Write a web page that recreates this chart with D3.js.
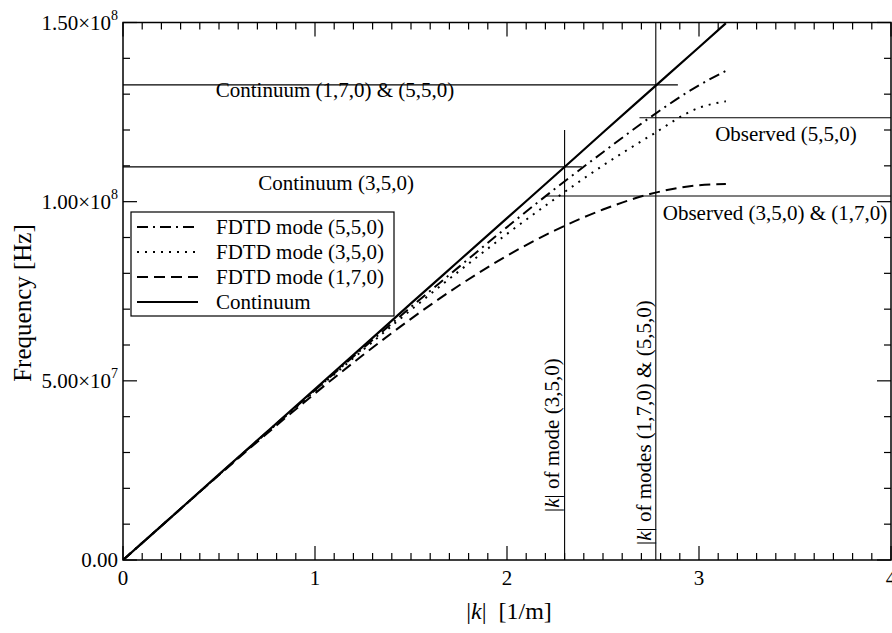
<!DOCTYPE html>
<meta charset="utf-8">
<script src="https://d3js.org/d3.v7.min.js"></script>
<div id="chart"></div>
<style>
	body {
		margin: 0;
		padding: 0;
		background: #fff;
		overflow: hidden;
	}
	text {
		font-family: "Liberation Serif", "DejaVu Serif", serif;
		fill: #000;
	}
</style>
<script>
	// |k| samples (1/m) and frequencies (Hz)
	const kValues = [0, 0.25, 0.5, 0.75, 1.0, 1.25, 1.5, 1.75, 2.0, 2.25, 2.5, 2.75, 3.0, 3.14];
	const continuum = [0, 1.19e7, 2.39e7, 3.58e7, 4.77e7, 5.96e7, 7.16e7, 8.35e7, 9.54e7, 1.073e8, 1.193e8, 1.312e8, 1.431e8, 1.498e8];
	const mode550 = [0, 1.19e7, 2.38e7, 3.57e7, 4.74e7, 5.91e7, 7.06e7, 8.18e7, 9.29e7, 1.036e8, 1.138e8, 1.237e8, 1.325e8, 1.365e8];
	const mode350 = [0, 1.19e7, 2.38e7, 3.56e7, 4.72e7, 5.86e7, 6.98e7, 8.06e7, 9.10e7, 1.008e8, 1.101e8, 1.185e8, 1.262e8, 1.28e8];
	const mode170 = [0, 1.19e7, 2.37e7, 3.53e7, 4.65e7, 5.72e7, 6.73e7, 7.66e7, 8.49e7, 9.20e7, 9.78e7, 1.022e8, 1.046e8, 1.049e8];

	const seriesNames = ["FDTD mode (5,5,0)", "FDTD mode (3,5,0)", "FDTD mode (1,7,0)", "Continuum"];

	// reference lines: horizontal [freq, kFrom, kTo], vertical [k, freqTo]
	const hRefs = [[1.326e8, 0, 2.89], [1.097e8, 0, 2.39], [1.234e8, 2.69, 4], [1.016e8, 2.20, 4]];
	const hLabels = ["Continuum (1,7,0) & (5,5,0)", "Continuum (3,5,0)", "Observed (5,5,0)", "Observed (3,5,0) & (1,7,0)"];
	const vRefs = [[2.30, 1.20e8], [2.775, 1.5e8]];
	const vLabels = ["|k| of mode (3,5,0)", "|k| of modes (1,7,0) & (5,5,0)"];

	const xTickLabels = ["0", "1", "2", "3", "4"];
	const yTickLabels = [["0.00", ""], ["5.00×10", "7"], ["1.00×10", "8"], ["1.50×10", "8"]];

	const WIDTH = 892, HEIGHT = 633;
	const L = 123, R = 891, T = 22.5, B = 560;

	const svg = d3.select("#chart").append("svg")
		.attr("width", WIDTH)
		.attr("height", HEIGHT);

	const x = d3.scaleLinear().domain([0, 4]).range([L, R]);
	const y = d3.scaleLinear().domain([0, 1.5e8]).range([B, T]);

	svg.append("clipPath").attr("id", "clip")
		.append("rect").attr("x", L).attr("y", T).attr("width", R - L).attr("height", B - T);

	// reference lines
	const refs = svg.append("g").attr("stroke", "#000").attr("stroke-width", 1.1);
	hRefs.forEach(([f, k0, k1]) => {
		refs.append("line").attr("x1", x(k0)).attr("x2", x(k1)).attr("y1", y(f)).attr("y2", y(f));
	});
	vRefs.forEach(([k, f]) => {
		refs.append("line").attr("x1", x(k)).attr("x2", x(k)).attr("y1", y(0)).attr("y2", y(f));
	});

	// curves
	const styles = [
		{ dash: "11,5,2,5", width: 2 },
		{ dash: "2,6", width: 2 },
		{ dash: "11,6", width: 2 },
		{ dash: null, width: 2.2 }
	];
	const allSeries = [mode550, mode350, mode170, continuum];
	const line = d3.line()
		.x((d, i) => x(kValues[i]))
		.y(d => y(d))
		.curve(d3.curveMonotoneX);

	svg.append("g").attr("clip-path", "url(#clip)")
		.selectAll("path")
		.data(allSeries)
		.join("path")
		.attr("d", d => line(d))
		.attr("fill", "none")
		.attr("stroke", "#000")
		.attr("stroke-width", (d, i) => styles[i].width)
		.attr("stroke-dasharray", (d, i) => styles[i].dash);

	// frame
	svg.append("rect")
		.attr("x", L).attr("y", T).attr("width", R - L).attr("height", B - T)
		.attr("fill", "none").attr("stroke", "#000").attr("stroke-width", 1.5);

	// ticks, pointing inward on all four sides
	const ticks = svg.append("g").attr("stroke", "#000").attr("stroke-width", 1.2);
	d3.range(0, 41).forEach(i => {
		const len = i % 10 === 0 ? 14 : 7;
		const px = x(i / 10);
		ticks.append("line").attr("x1", px).attr("x2", px).attr("y1", B).attr("y2", B - len);
		ticks.append("line").attr("x1", px).attr("x2", px).attr("y1", T).attr("y2", T + len);
	});
	d3.range(0, 16).forEach(i => {
		const len = i % 5 === 0 ? 14 : 7;
		const py = y(i * 1e7);
		ticks.append("line").attr("x1", L).attr("x2", L + len).attr("y1", py).attr("y2", py);
		ticks.append("line").attr("x1", R).attr("x2", R - len).attr("y1", py).attr("y2", py);
	});

	// tick labels
	svg.append("g").selectAll("text")
		.data(xTickLabels)
		.join("text")
		.attr("x", (d, i) => x(i))
		.attr("y", 585)
		.attr("text-anchor", "middle")
		.attr("font-size", 21)
		.text(d => d);

	const yLab = svg.append("g").selectAll("text")
		.data(yTickLabels)
		.join("text")
		.attr("x", 118)
		.attr("y", (d, i) => y(i * 5e7) + 7)
		.attr("text-anchor", "end")
		.attr("font-size", 21);
	yLab.append("tspan").text(d => d[0]);
	yLab.append("tspan").attr("dy", -10).attr("font-size", 14).text(d => d[1]);

	// axis titles
	svg.append("text")
		.attr("transform", "translate(31,303) rotate(-90)")
		.attr("text-anchor", "middle")
		.attr("font-size", 25)
		.text("Frequency [Hz]");

	const xt = svg.append("text")
		.attr("x", 509).attr("y", 619)
		.attr("text-anchor", "middle")
		.attr("font-size", 24);
	xt.append("tspan").text("|");
	xt.append("tspan").attr("font-style", "italic").text("k");
	xt.append("tspan").text("|  [1/m]").attr("xml:space", "preserve");

	// annotation labels
	const hPos = [[335, 97], [336, 190], [786, 141], [775, 220]];
	svg.append("g").selectAll("text")
		.data(hLabels)
		.join("text")
		.attr("x", (d, i) => hPos[i][0])
		.attr("y", (d, i) => hPos[i][1])
		.attr("text-anchor", "middle")
		.attr("font-size", 21)
		.text(d => d);

	const vPos = [[x(vRefs[0][0]) - 6, 512], [x(vRefs[1][0]) - 5, 545]];
	vLabels.forEach((lab, i) => {
		const t = svg.append("text")
			.attr("transform", `translate(${vPos[i][0]},${vPos[i][1]}) rotate(-90)`)
			.attr("font-size", 21);
		t.append("tspan").text("|");
		t.append("tspan").attr("font-style", "italic").text("k");
		t.append("tspan").text(lab.slice(2));
	});

	// legend
	const lg = svg.append("g");
	lg.append("rect")
		.attr("x", 131).attr("y", 212).attr("width", 263).attr("height", 104)
		.attr("fill", "#fff").attr("stroke", "#000").attr("stroke-width", 1.2);
	seriesNames.forEach((name, i) => {
		const ly = 227 + i * 25;
		lg.append("line")
			.attr("x1", 137).attr("x2", 198).attr("y1", ly).attr("y2", ly)
			.attr("stroke", "#000")
			.attr("stroke-width", styles[i].width)
			.attr("stroke-dasharray", styles[i].dash);
		lg.append("text")
			.attr("x", 216).attr("y", ly + 7)
			.attr("font-size", 21)
			.text(name);
	});
</script>
